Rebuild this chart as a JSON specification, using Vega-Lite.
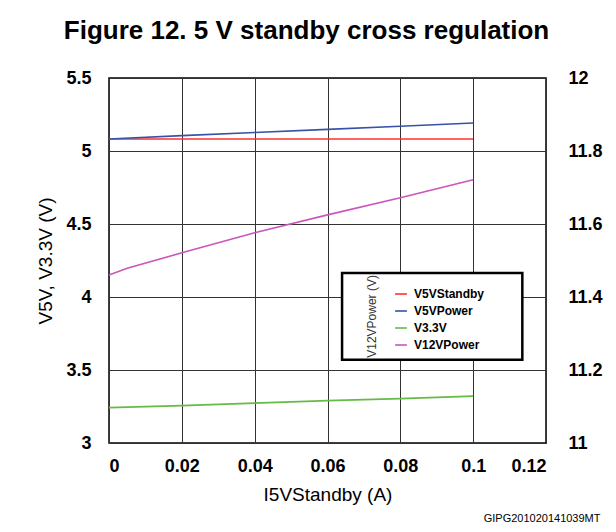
{
  "$schema": "https://vega.github.io/schema/vega-lite/v6.json",
  "width": 437,
  "height": 365,
  "padding": {"left": 36, "top": 18, "right": 5, "bottom": 5},
  "background": "white",
  "title": {
    "text": "Figure 12. 5 V standby cross regulation",
    "font": "Liberation Sans",
    "fontSize": 26,
    "fontWeight": "bold",
    "color": "black",
    "anchor": "middle",
    "frame": "bounds",
    "offset": 25,
    "dx": -13
  },
  "config": {
    "view": {"stroke": "black", "strokeWidth": 1.5},
    "axis": {
      "labelFont": "Liberation Sans",
      "labelFontWeight": "bold",
      "labelFontSize": 18,
      "labelColor": "black",
      "titleFont": "Liberation Sans",
      "titleFontWeight": "normal",
      "titleFontSize": 19,
      "titleColor": "black",
      "ticks": false,
      "domain": false,
      "gridColor": "#333333",
      "gridOpacity": 1,
      "gridWidth": 1
    }
  },
  "data": {
    "values": [
      {"I": 0, "series": "V5VStandby", "V": 5.082},
      {"I": 0.02, "series": "V5VStandby", "V": 5.082},
      {"I": 0.04, "series": "V5VStandby", "V": 5.082},
      {"I": 0.06, "series": "V5VStandby", "V": 5.082},
      {"I": 0.08, "series": "V5VStandby", "V": 5.082},
      {"I": 0.1, "series": "V5VStandby", "V": 5.082},
      {"I": 0, "series": "V5VPower", "V": 5.082},
      {"I": 0.02, "series": "V5VPower", "V": 5.105},
      {"I": 0.04, "series": "V5VPower", "V": 5.127},
      {"I": 0.06, "series": "V5VPower", "V": 5.148},
      {"I": 0.08, "series": "V5VPower", "V": 5.17},
      {"I": 0.1, "series": "V5VPower", "V": 5.192},
      {"I": 0, "series": "V3.3V", "V": 3.242},
      {"I": 0.02, "series": "V3.3V", "V": 3.256},
      {"I": 0.04, "series": "V3.3V", "V": 3.273},
      {"I": 0.06, "series": "V3.3V", "V": 3.29},
      {"I": 0.08, "series": "V3.3V", "V": 3.304},
      {"I": 0.1, "series": "V3.3V", "V": 3.321},
      {"I": 0, "series": "V12VPower", "V": 11.46},
      {"I": 0.005, "series": "V12VPower", "V": 11.479},
      {"I": 0.02, "series": "V12VPower", "V": 11.521},
      {"I": 0.04, "series": "V12VPower", "V": 11.576},
      {"I": 0.06, "series": "V12VPower", "V": 11.625},
      {"I": 0.08, "series": "V12VPower", "V": 11.672},
      {"I": 0.1, "series": "V12VPower", "V": 11.721}
    ]
  },
  "layer": [
    {
      "layer": [
        {
          "transform": [{"filter": "datum.series !== 'V12VPower'"}],
          "mark": {"type": "line", "strokeWidth": 1.6},
          "encoding": {
            "x": {
              "field": "I",
              "type": "quantitative",
              "scale": {"domain": [0, 0.12], "nice": false, "zero": false},
              "axis": {
                "values": [0, 0.02, 0.04, 0.06, 0.08, 0.1, 0.12],
                "format": ".2~f",
                "labelPadding": 14,
                "title": "I5VStandby (A)",
                "titlePadding": 10,
                "grid": true
              }
            },
            "y": {
              "field": "V",
              "type": "quantitative",
              "scale": {"domain": [3, 5.5], "nice": false, "zero": false},
              "axis": {
                "orient": "left",
                "values": [3, 3.5, 4, 4.5, 5, 5.5],
                "format": "~g",
                "labelPadding": 18,
                "title": "V5V, V3.3V (V)",
                "titlePadding": 10,
                "grid": true
              }
            },
            "color": {
              "field": "series",
              "type": "nominal",
              "scale": {
                "domain": ["V5VStandby", "V5VPower", "V3.3V", "V12VPower"],
                "range": ["#ff3030", "#3752a8", "#66bb44", "#cc55bb"]
              },
              "legend": {
                "orient": "none",
                "legendX": 285,
                "legendY": 209,
                "title": null,
                "padding": 0,
                "symbolType": "stroke",
                "symbolSize": 140,
                "symbolStrokeWidth": 1.6,
                "labelFont": "Liberation Sans",
                "labelFontSize": 12,
                "labelFontWeight": "bold",
                "labelColor": "black",
                "labelOffset": 6,
                "rowPadding": 4
              }
            }
          }
        },
        {
          "data": {"values": [{"box": "legend"}]},
          "mark": {"type": "rect", "fill": "white", "stroke": "black", "strokeWidth": 2.5},
          "encoding": {
            "x": {"datum": 0.064, "type": "quantitative"},
            "x2": {"datum": 0.1135},
            "y": {"datum": 4.165, "type": "quantitative"},
            "y2": {"datum": 3.57}
          }
        },
        {
          "data": {"values": [{"label": "V12VPower (V)"}]},
          "mark": {
            "type": "text",
            "angle": 270,
            "align": "center",
            "baseline": "middle",
            "font": "Liberation Sans",
            "fontSize": 12,
            "color": "#333333"
          },
          "encoding": {
            "x": {"datum": 0.0722, "type": "quantitative"},
            "y": {"datum": 3.867, "type": "quantitative"},
            "text": {"field": "label"}
          }
        }
      ]
    },
    {
      "transform": [{"filter": "datum.series === 'V12VPower'"}],
      "mark": {"type": "line", "strokeWidth": 1.6},
      "encoding": {
        "x": {
          "field": "I",
          "type": "quantitative",
          "axis": {
            "orient": "bottom",
            "labels": false,
            "ticks": false,
            "domain": false,
            "grid": false,
            "title": "GIPG201020141039MT",
            "titleFontSize": 11,
            "titleFontWeight": "normal",
            "titleAlign": "right",
            "titleBaseline": "middle",
            "titleAnchor": "end",
            "titleX": 491,
            "titleY": 75
          }
        },
        "y": {
          "field": "V",
          "type": "quantitative",
          "scale": {"domain": [11, 12], "nice": false, "zero": false},
          "axis": {
            "orient": "right",
            "values": [11, 11.2, 11.4, 11.6, 11.8, 12],
            "format": "~g",
            "labelPadding": 22,
            "title": null,
            "grid": false
          }
        },
        "color": {"field": "series", "type": "nominal"}
      }
    }
  ],
  "resolve": {"scale": {"y": "independent"}, "axis": {"x": "independent"}}
}
